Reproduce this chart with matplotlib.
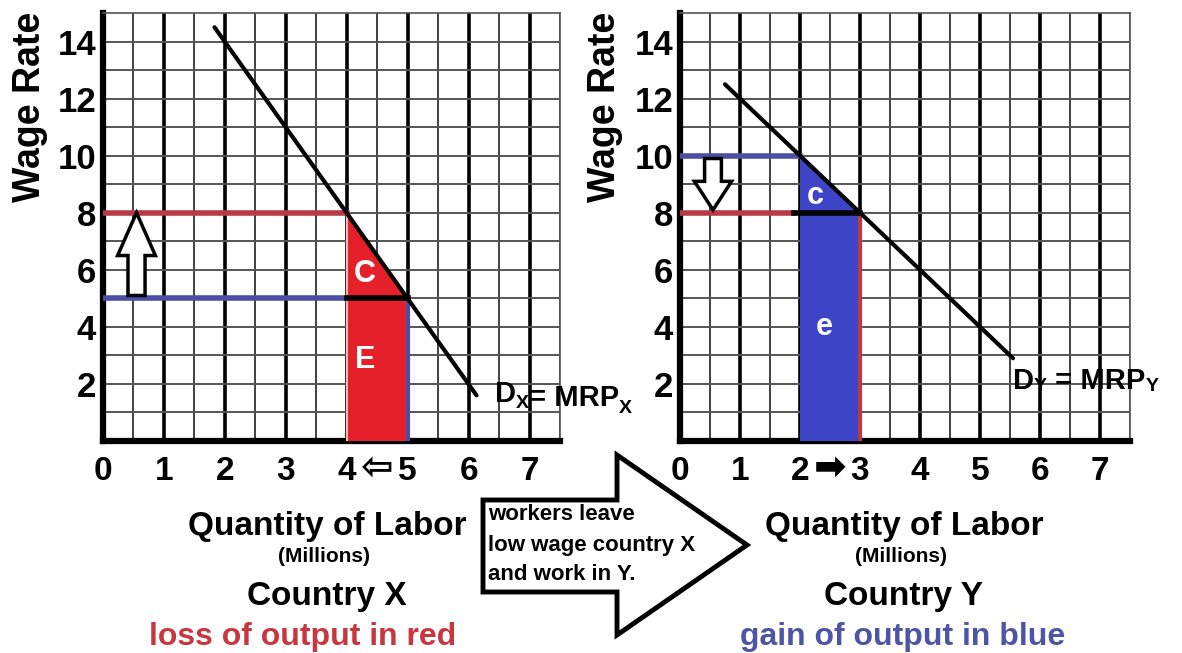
import matplotlib
matplotlib.use('Agg')
import matplotlib.pyplot as plt
from matplotlib.patches import Polygon
from matplotlib.ticker import MultipleLocator


# axis ticks
wage_ticks = [2, 4, 6, 8, 10, 12, 14]
labor_ticks = [0, 1, 2, 3, 4, 5, 6, 7]

# country X: demand (MRP) line end points, wages and labor before/after
dx_labor = [1.83, 6.13]
dx_wage = [14.5, 1.6]
x_wage_before = 5
x_wage_after = 8
x_labor_before = 5
x_labor_after = 4

# country Y
dy_labor = [0.75, 5.55]
dy_wage = [12.5, 2.9]
y_wage_before = 10
y_wage_after = 8
y_labor_before = 2
y_labor_after = 3

RED_FILL = '#e5202a'
BLUE_FILL = '#3d45c6'
RED_LINE = '#b83a44'
BLUE_LINE = '#4b4ea3'
RED_TEXT = '#c8363e'
BLUE_TEXT = '#4d55a5'

plt.rcParams['font.family'] = ['Liberation Sans', 'DejaVu Sans']
NARROW = ['Liberation Sans Narrow', 'Liberation Sans', 'DejaVu Sans']

W, H = 1182, 653


def fx(px):
    return px / W


def fy(py):
    return 1 - py / H


def setup_axes(ax):
    ax.set_xlim(0, 7.5)
    ax.set_ylim(0, 15)
    ax.xaxis.set_major_locator(MultipleLocator(1))
    ax.xaxis.set_minor_locator(MultipleLocator(0.5))
    ax.set_yticks(wage_ticks)
    ax.set_yticks(range(1, 15), minor=True)
    ax.set_xticks(labor_ticks)
    ax.set_xticklabels([str(v) for v in labor_ticks], fontsize=24,
                       fontweight='bold', family=NARROW)
    ax.set_yticklabels([str(v) for v in wage_ticks], fontsize=25,
                       fontweight='bold')
    ax.tick_params(which='both', length=0)
    ax.tick_params(axis='x', pad=11)
    ax.tick_params(axis='y', pad=5)
    ax.grid(axis='x', which='major', color='black', lw=2.6)
    ax.grid(axis='x', which='minor', color='#333333', lw=1.3)
    ax.grid(axis='y', which='both', color='#555555', lw=1.4)
    ax.set_axisbelow(True)
    for side in ['left', 'bottom']:
        ax.spines[side].set_linewidth(4.5)
        ax.spines[side].set_color('black')
    for side in ['top', 'right']:
        ax.spines[side].set_linewidth(1.2)
        ax.spines[side].set_color('#555555')


def chain_text(ax, x, y, pieces):
    # pieces: (text, fontsize, vertical offset in points)
    s, size, dy = pieces[0]
    t = ax.text(x, y, s, fontsize=size, fontweight='bold', va='bottom')
    for s, size, dy in pieces[1:]:
        t = ax.annotate(s, xy=(1, 0), xycoords=t, xytext=(0, dy),
                        textcoords='offset points', fontsize=size,
                        fontweight='bold', va='bottom', ha='left')
    return t


fig = plt.figure(figsize=(W / 100, H / 100), dpi=100)
ax1 = fig.add_axes([fx(103), fy(441), fx(560) - fx(103), fy(13) - fy(441)])
ax2 = fig.add_axes([fx(680), fy(441), fx(1130) - fx(680), fy(13) - fy(441)])
setup_axes(ax1)
setup_axes(ax2)

# ---- country X ----
ax1.add_patch(Polygon([(x_labor_after, 0), (x_labor_after, x_wage_after),
                       (x_labor_before, x_wage_before), (x_labor_before, 0)],
                      closed=True, fc=RED_FILL, ec='none', zorder=3))
ax1.plot([x_labor_after, x_labor_after], [0, x_wage_after], color='#f4b8bc',
         lw=1.5, zorder=4)
ax1.plot([0, x_labor_after], [x_wage_after] * 2, color=RED_LINE, lw=4,
         zorder=4)
ax1.plot([0, x_labor_after], [x_wage_before] * 2, color=BLUE_LINE, lw=4,
         zorder=4)
ax1.plot([x_labor_after, x_labor_before], [x_wage_before] * 2, color='black',
         lw=4, zorder=5)
ax1.plot([x_labor_before, x_labor_before], [0, x_wage_before],
         color=BLUE_LINE, lw=3, zorder=4)
ax1.plot(dx_labor, dx_wage, color='black', lw=3, zorder=6,
         solid_capstyle='round')
ax1.arrow(0.55, x_wage_before + 0.1, 0, x_wage_after - x_wage_before - 0.1,
          width=0.28, head_width=0.62, head_length=1.5,
          length_includes_head=True, fc='white', ec='black', lw=2.5, zorder=7)
ax1.text(4.3, 5.85, 'C', color='white', fontsize=22, fontweight='bold',
         ha='center', va='center', zorder=8)
ax1.text(4.3, 2.85, 'E', color='white', fontsize=22, fontweight='bold',
         ha='center', va='center', zorder=8)
chain_text(ax1, 6.43, 1.15, [('D', 21, 0), ('X', 14, -3), ('= MRP', 21, 0),
                            ('X', 14, -3)])
ax1.text(4.5, -0.95, '\u21e6', fontsize=28, fontweight='bold',
         family=['DejaVu Sans'], ha='center', va='center')

# ---- country Y ----
ax2.add_patch(Polygon([(y_labor_before, 0), (y_labor_before, y_wage_before),
                       (y_labor_after, y_wage_after), (y_labor_after, 0)],
                      closed=True, fc=BLUE_FILL, ec='none', zorder=3))
ax2.plot([0, y_labor_before], [y_wage_before] * 2, color=BLUE_LINE, lw=4,
         zorder=4)
ax2.plot([0, y_labor_before - 0.1], [y_wage_after] * 2, color=RED_LINE, lw=4,
         zorder=4)
ax2.plot([y_labor_before - 0.1, y_labor_after], [y_wage_after] * 2,
         color='black', lw=4, zorder=5)
ax2.plot([y_labor_after, y_labor_after], [0, y_wage_after], color=RED_LINE,
         lw=3, zorder=4)
ax2.plot(dy_labor, dy_wage, color='black', lw=3, zorder=6,
         solid_capstyle='round')
ax2.arrow(0.55, y_wage_before - 0.1, 0, y_wage_after - y_wage_before + 0.2,
          width=0.28, head_width=0.62, head_length=1.0,
          length_includes_head=True, fc='white', ec='black', lw=2.5, zorder=7)
ax2.text(2.25, 8.6, 'c', color='white', fontsize=22, fontweight='bold',
         ha='center', va='center', zorder=8)
ax2.text(2.4, 4.0, 'e', color='white', fontsize=22, fontweight='bold',
         ha='center', va='center', zorder=8)
chain_text(ax2, 5.55, 1.6, [('D', 21, 0), ('Y', 14, 0), (' = MRP', 21, 0),
                           ('Y', 14, 0)])
ax2.text(2.5, -0.95, '\u27a1', fontsize=28, fontweight='bold',
         family=['DejaVu Sans'], ha='center', va='center')

# y labels
for xpx in (30, 605):
    fig.text(fx(xpx), fy(107), 'Wage Rate', rotation=90, fontsize=27,
             fontweight='bold', ha='center', va='center')

# big arrow between the charts
arrow_px = [(483, 500), (617, 500), (617, 455), (747, 545), (617, 635),
            (617, 592), (483, 592)]
fig.add_artist(Polygon([(fx(x), fy(y)) for x, y in arrow_px], closed=True,
                       fc='white', ec='black', lw=3.5,
                       transform=fig.transFigure))
for i, line in enumerate(['workers leave', 'low wage country X',
                          'and work in Y.']):
    fig.text(fx(488), fy(515 + 30 * i), line, fontsize=16, fontweight='bold',
             family=NARROW, ha='left', va='center')

# captions under each chart
captions = [
    (327, ['Quantity of Labor', '(Millions)', 'Country X',
           'loss of output in red'], RED_TEXT, 303),
    (904, ['Quantity of Labor', '(Millions)', 'Country Y',
           'gain of output in blue'], BLUE_TEXT, 903),
]
for xpx, lines, col, xlast in captions:
    fig.text(fx(xpx), fy(527), lines[0], fontsize=24, fontweight='bold',
             family=NARROW, ha='center', va='center')
    fig.text(fx(xpx - 3), fy(557), lines[1], fontsize=15, fontweight='bold',
             family=NARROW, ha='center', va='center')
    fig.text(fx(xpx), fy(597), lines[2], fontsize=24, fontweight='bold',
             family=NARROW, ha='center', va='center')
    fig.text(fx(xlast), fy(637), lines[3], fontsize=23, fontweight='bold',
             family=NARROW, color=col, ha='center', va='center')

fig.savefig('out.png', dpi=100)
